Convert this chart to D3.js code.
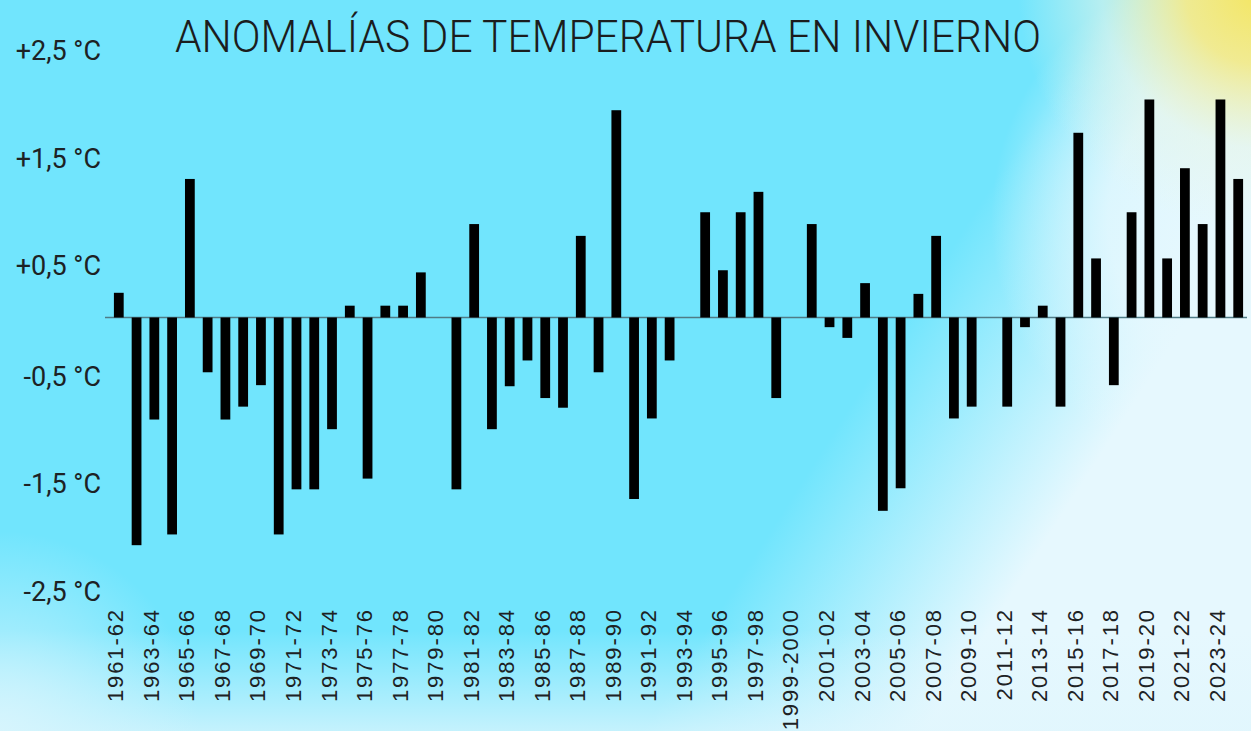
<!DOCTYPE html>
<meta charset="UTF-8">
<style>
    body { margin: 0; overflow: hidden; }
    .title { font: 300 44px Roboto, sans-serif; fill: #1b1d1e; }
    .yaxis text { font: 400 27px Roboto, sans-serif; fill: #1d2224; }
    .xaxis text { font: 400 22px "Liberation Sans", Arial, sans-serif; fill: #1d2224; letter-spacing: 1.9px; }
    .bar { fill: #000; }
    .zero { stroke: #4f7b86; stroke-width: 1.6px; }
</style>

<body>

<script src="https://d3js.org/d3.v7.min.js"></script>
<script>

// winter seasons, one bar each
var seasons = [
  "1961-62","1962-63","1963-64","1964-65","1965-66","1966-67","1967-68","1968-69",
  "1969-70","1970-71","1971-72","1972-73","1973-74","1974-75","1975-76","1976-77",
  "1977-78","1978-79","1979-80","1980-81","1981-82","1982-83","1983-84","1984-85",
  "1985-86","1986-87","1987-88","1988-89","1989-90","1990-91","1991-92","1992-93",
  "1993-94","1994-95","1995-96","1996-97","1997-98","1998-99","1999-2000","2000-01",
  "2001-02","2002-03","2003-04","2004-05","2005-06","2006-07","2007-08","2008-09",
  "2009-10","2010-11","2011-12","2012-13","2013-14","2014-15","2015-16","2016-17",
  "2017-18","2018-19","2019-20","2020-21","2021-22","2022-23","2023-24","2024-25"
];

// temperature anomaly (°C)
var anomalies = [
   0.23, -2.12, -0.95, -2.02,  1.29, -0.51, -0.95, -0.83,
  -0.63, -2.02, -1.60, -1.60, -1.04,  0.11, -1.50,  0.11,
   0.11,  0.42,  0.00, -1.60,  0.87, -1.04, -0.64, -0.40,
  -0.75, -0.84,  0.76, -0.51,  1.93, -1.69, -0.94, -0.40,
   0.00,  0.98,  0.44,  0.98,  1.17, -0.75,  0.00,  0.87,
  -0.09, -0.19,  0.32, -1.80, -1.59,  0.22,  0.76, -0.94,
  -0.83,  0.00, -0.83, -0.09,  0.11, -0.83,  1.72,  0.55,
  -0.63,  0.98,  2.03,  0.55,  1.39,  0.87,  2.03,  1.29
];

// y ticks and their labels
var yTickValues = [2.5, 1.5, 0.5, -0.5, -1.5, -2.5];
var yTickLabels = ["+2,5 °C", "+1,5 °C", "+0,5 °C", "-0,5 °C", "-1,5 °C", "-2,5 °C"];

// only every other season gets a label
var xLabelled = seasons.filter(function(d, i) { return i % 2 === 0; });

var width = 1251, height = 731;

var svg = d3.select("body").append("svg")
    .attr("width", width)
    .attr("height", height);

// ---------- background ----------
var defs = svg.append("defs");

function addStops(grad, stops) {
  stops.forEach(function(s) {
    grad.append("stop")
      .attr("offset", s[0])
      .attr("stop-color", s[1])
      .attr("stop-opacity", s[2]);
  });
}

addStops(defs.append("linearGradient")
    .attr("id", "pale")
    .attr("gradientUnits", "userSpaceOnUse")
    .attr("x1", 790).attr("y1", 500)
    .attr("x2", 990).attr("y2", 628),
  [["0%", "#e6f8fe", 0], ["100%", "#e6f8fe", 1]]);

addStops(defs.append("radialGradient")
    .attr("id", "paleTop")
    .attr("gradientUnits", "userSpaceOnUse")
    .attr("cx", 1251).attr("cy", 220).attr("r", 260),
  [["0%", "#e6f8fe", 1], ["55%", "#e6f8fe", 0.85], ["100%", "#e6f8fe", 0]]);

addStops(defs.append("linearGradient")
    .attr("id", "bottom")
    .attr("gradientUnits", "userSpaceOnUse")
    .attr("x1", 0).attr("y1", 630)
    .attr("x2", 0).attr("y2", 731),
  [["0%", "#e0f6fd", 0], ["100%", "#e0f6fd", 0.75]]);

addStops(defs.append("radialGradient")
    .attr("id", "corner")
    .attr("gradientUnits", "userSpaceOnUse")
    .attr("cx", 0).attr("cy", 731).attr("r", 200),
  [["0%", "#d8f5fd", 0.9], ["100%", "#d8f5fd", 0]]);

addStops(defs.append("radialGradient")
    .attr("id", "sun")
    .attr("gradientUnits", "userSpaceOnUse")
    .attr("cx", 1258).attr("cy", -8).attr("r", 240),
  [["0%", "#f4e663", 1], ["30%", "#f2ea8c", 0.95], ["65%", "#e6f5e8", 0.6], ["100%", "#e6f5e8", 0]]);

["#71e5fd", "url(#pale)", "url(#paleTop)", "url(#bottom)", "url(#corner)", "url(#sun)"]
  .forEach(function(f) {
    svg.append("rect").attr("width", width).attr("height", height).attr("fill", f);
  });

// ---------- scales ----------
var x = d3.scaleBand()
    .domain(seasons)
    .range([110, 1247])
    .paddingInner(0.45)
    .paddingOuter(0.22);

var y = d3.scaleLinear()
    .domain([-2.5, 2.5])
    .range([586, 49]);

// title
svg.append("text")
    .attr("class", "title")
    .attr("x", 175)
    .attr("y", 52)
    .attr("textLength", 866)
    .attr("lengthAdjust", "spacingAndGlyphs")
    .text("ANOMALÍAS DE TEMPERATURA EN INVIERNO");

// y axis: labels only
var yAxis = svg.append("g")
    .attr("class", "yaxis")
    .attr("transform", "translate(101,0)")
    .call(d3.axisLeft(y)
        .tickValues(yTickValues)
        .tickFormat(function(d, i) { return yTickLabels[i]; })
        .tickSize(0)
        .tickPadding(0));
yAxis.select(".domain").remove();
yAxis.selectAll("text")
    .attr("dy", function(d) { return d < 0 ? "0.52em" : "0.4em"; });

// zero line
svg.append("line")
    .attr("class", "zero")
    .attr("x1", 105).attr("x2", 1247)
    .attr("y1", y(0)).attr("y2", y(0));

// bars
svg.selectAll("rect.bar")
    .data(anomalies)
  .enter().append("rect")
    .attr("class", "bar")
    .attr("x", function(d, i) { return x(seasons[i]); })
    .attr("width", x.bandwidth())
    .attr("y", function(d) { return Math.min(y(d), y(0)); })
    .attr("height", function(d) { return Math.abs(y(d) - y(0)); });

// x axis: rotated season labels
var xAxis = svg.append("g")
    .attr("class", "xaxis")
    .attr("transform", "translate(0,608)")
    .call(d3.axisBottom(x)
        .tickValues(xLabelled)
        .tickSize(0));
xAxis.select(".domain").remove();
xAxis.selectAll("text")
    .attr("x", 0)
    .attr("y", 0)
    .attr("dy", 0)
    .attr("text-anchor", "end")
    .attr("transform", "translate(4.5,0) rotate(-90)");

</script>
</body>
